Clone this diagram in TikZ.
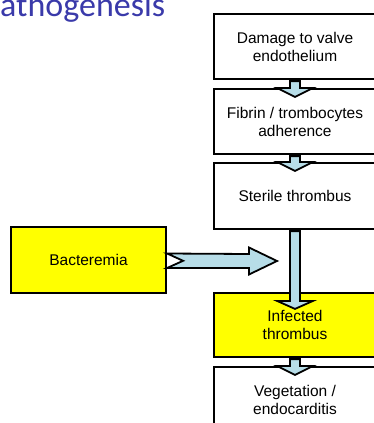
\documentclass[tikz,border=0pt]{standalone}
\usepackage{fontspec}
\setmainfont{Liberation Sans}
\newfontfamily\titlefont{Carlito}
\usetikzlibrary{calc}
\definecolor{titleblue}{RGB}{58,58,170}
\definecolor{arrowblue}{RGB}{183,221,232}
\definecolor{boxyellow}{RGB}{255,255,0}
\tikzset{
  stepbox/.style={draw=black, line width=2.2pt, fill=white, minimum width=162pt,
    minimum height=65pt, inner sep=0pt, align=center,
    font=\fontsize{15.5}{18}\selectfont},
  yellowbox/.style={stepbox, fill=boxyellow},
  blockarrow/.style={draw=black, line width=1.8pt, fill=arrowblue, line join=miter},
}
\newcommand{\vblock}[2]{%
  \draw[blockarrow] ($(#1.south)+(-5,1)$) -- ($(#2.north)+(-5,0)$) -- ($(#2.north)+(-18,0)$)
    -- ($(#2.north)+(0,9)$) -- ($(#2.north)+(18,0)$) -- ($(#2.north)+(5,0)$)
    -- ($(#1.south)+(5,1)$) -- cycle;}
\begin{document}
\begin{tikzpicture}[x=1pt,y=-1pt]
\useasboundingbox (0,0) rectangle (374,423);
\clip (0,0) rectangle (374,423);
\node[anchor=base west, text=titleblue, font=\titlefont\fontsize{34}{40}\selectfont, inner sep=0pt] (title) at (0,16.5) {athogenesis};
\node[stepbox] (b1) at (295,46.5) {Damage to valve\\endothelium};
\node[stepbox] (b2) at (295,121.5) {Fibrin / trombocytes\\adherence};
\node[stepbox, minimum height=66pt] (b3) at (295,196) {Sterile thrombus};
\node[yellowbox, minimum height=64pt] (b4) at (295,325) {\raisebox{-2pt}{Infected}\\\raisebox{-2pt}{thrombus}};
\node[stepbox] (b5) at (295,399.5) {Vegetation /\\endocarditis};
\node[yellowbox, minimum width=155pt, minimum height=66pt] (bac) at (88.5,260) {Bacteremia};
\vblock{b1}{b2}
\vblock{b2}{b3}
\draw[blockarrow] ($(b3.south)+(-5,1)$) -- ($(b4.north)+(-5,9)$) -- ($(b4.north)+(-18,9)$)
    -- ($(b4.north)+(0,17)$) -- ($(b4.north)+(18,9)$) -- ($(b4.north)+(5,9)$)
    -- ($(b3.south)+(5,1)$) -- cycle;
\vblock{b4}{b5}
\coordinate (tip) at (277,261);
\draw[blockarrow] ($(bac.east)+(0,-6.5)$) -- ($(tip)+(-28,-7)$) -- ($(tip)+(-28,-13.5)$)
  -- (tip) -- ($(tip)+(-28,13.5)$) -- ($(tip)+(-28,7)$) -- ($(bac.east)+(0,8)$)
  -- ($(bac.east)+(16,0.8)$) -- cycle;
\end{tikzpicture}
\end{document}
